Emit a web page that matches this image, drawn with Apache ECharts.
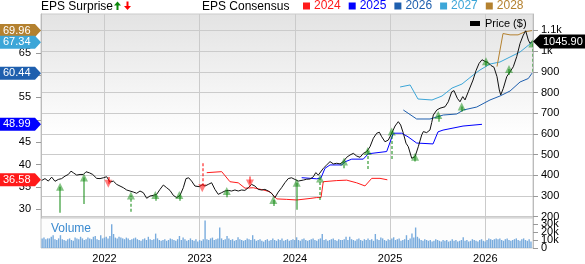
<!DOCTYPE html>
<html><head><meta charset="utf-8">
<script src="https://cdn.jsdelivr.net/npm/echarts@6/dist/echarts.min.js"></script>
<style>html,body{margin:0;padding:0;background:#fff}#c{width:585px;height:264px}</style>
</head><body><div id="c"></div>
<script>
// ---------- data ----------
const yearTicks = [2022, 2023, 2024, 2025, 2026];
const priceTicks = [200, 300, 400, 500, 600, 700, 800, 900, 1000, 1100];
const epsTicks = [30, 35, 40, 45, 50, 55, 60, 65, 70];
const epsLabels = [30, 35, 40, 45, 55, 65];
const volTicks = [0, 10, 20, 30];

const price = [[2021.340,375],[2021.375,384],[2021.410,372],[2021.445,391],[2021.480,371],[2021.515,380],[2021.550,384],[2021.585,396],[2021.620,404],[2021.648,420],[2021.673,412],[2021.708,401],[2021.743,404],[2021.778,404],[2021.806,417],[2021.841,412],[2021.876,404],[2021.918,385],[2021.953,384],[2021.988,388],[2022.023,393],[2022.058,367],[2022.093,372],[2022.128,356],[2022.163,348],[2022.198,340],[2022.233,329],[2022.268,324],[2022.303,319],[2022.338,313],[2022.373,324],[2022.408,316],[2022.443,289],[2022.478,300],[2022.513,303],[2022.548,308],[2022.583,332],[2022.618,353],[2022.653,340],[2022.688,327],[2022.723,303],[2022.758,292],[2022.793,303],[2022.828,340],[2022.856,384],[2022.884,388],[2022.915,372],[2022.950,348],[2022.996,345],[2023.031,356],[2023.055,348],[2023.090,356],[2023.125,364],[2023.160,332],[2023.195,308],[2023.230,316],[2023.265,324],[2023.300,327],[2023.335,324],[2023.370,329],[2023.405,324],[2023.440,329],[2023.475,327],[2023.510,340],[2023.545,356],[2023.580,348],[2023.615,332],[2023.650,329],[2023.685,332],[2023.720,324],[2023.755,313],[2023.790,292],[2023.825,319],[2023.860,340],[2023.895,364],[2023.930,384],[2023.965,388],[2024.000,380],[2024.035,372],[2024.054,369],[2024.089,377],[2024.124,381],[2024.159,382],[2024.194,393],[2024.219,413],[2024.246,401],[2024.264,401],[2024.299,434],[2024.334,450],[2024.369,466],[2024.404,455],[2024.439,458],[2024.474,455],[2024.509,466],[2024.544,487],[2024.579,498],[2024.614,506],[2024.649,493],[2024.684,487],[2024.719,506],[2024.754,514],[2024.789,538],[2024.824,579],[2024.859,603],[2024.887,608],[2024.912,586],[2024.946,562],[2024.981,570],[2025.017,603],[2025.052,638],[2025.086,659],[2025.111,643],[2025.139,603],[2025.167,555],[2025.191,538],[2025.227,482],[2025.262,490],[2025.296,538],[2025.332,595],[2025.349,611],[2025.384,606],[2025.419,619],[2025.437,655],[2025.454,691],[2025.490,715],[2025.524,724],[2025.577,731],[2025.611,755],[2025.647,803],[2025.671,809],[2025.706,772],[2025.734,755],[2025.763,780],[2025.787,764],[2025.821,803],[2025.839,800],[2025.871,860],[2025.902,905],[2025.934,940],[2025.965,958],[2025.997,950],[2026.028,945],[2026.060,930],[2026.091,922],[2026.123,876],[2026.147,812],[2026.162,788],[2026.189,820],[2026.225,876],[2026.260,900],[2026.294,924],[2026.330,973],[2026.365,1037],[2026.399,1077],[2026.424,1098],[2026.452,1053],[2026.470,1037],[2026.487,1045.90]];

const eps2024 = [[2023.074,38.17],[2023.231,38.4],[2023.318,36.15],[2023.405,35.9],[2023.476,34.7],[2023.563,34.8],[2023.668,34.3],[2023.738,33.9],[2023.809,32.3],[2023.914,32.2],[2024.019,32.06],[2024.159,32.4],[2024.229,32.6],[2024.274,32.6],[2024.298,36.15],[2024.439,36.4],[2024.544,36.5],[2024.649,35.9],[2024.736,35.2],[2024.807,36.9],[2024.894,36.9],[2024.971,36.58]];
const eps2025 = [[2024.071,37.05],[2024.229,36.8],[2024.274,37.0],[2024.316,39.15],[2024.369,39.9],[2024.492,39.9],[2024.526,40.6],[2024.597,41.2],[2024.718,41.2],[2024.771,42.4],[2024.964,42.9],[2025.034,47.0],[2025.122,47.0],[2025.188,46.2],[2025.279,44.8],[2025.451,44.6],[2025.503,47.3],[2025.556,47.7],[2025.766,48.6],[2025.965,48.99]];
const eps2026 = [[2025.139,52.19],[2025.279,50.18],[2025.419,50.18],[2025.559,51.07],[2025.700,51.3],[2025.769,52.19],[2025.910,52.86],[2026.049,54.43],[2026.154,55.32],[2026.260,56.44],[2026.365,58.46],[2026.452,59.24],[2026.491,60.44]];
const eps2027 = [[2025.105,57.34],[2025.210,57.79],[2025.293,54.65],[2025.440,54.43],[2025.545,55.32],[2025.651,57.11],[2025.755,58.0],[2025.860,59.8],[2025.944,61.14],[2026.049,62.48],[2026.154,62.93],[2026.260,64.05],[2026.365,65.17],[2026.491,67.34]];
const eps2028 = [[2026.123,61.9],[2026.186,69.3],[2026.260,69.0],[2026.344,69.0],[2026.418,69.7],[2026.491,69.96]];

const surpriseDates  = [2021.533,2021.785,2022.040,2022.278,2022.534,2022.786,2023.027,2023.284,2023.528,2023.773,2024.019,2024.264,2024.516,2024.765,2025.017,2025.262,2025.506,2025.752,2026.007,2026.249,2026.494];
const surpriseFrom   = [219,261,392,224,277,277,458,294,394,252,234,281,434,430,479,466,659,707,925,884,900];
const surpriseTo     = [345,389,359,302,305,305,337,324,360,281,364,385,466,517,611,490,691,732,951,913,1037];
const surpriseDashed = [0,0,0,1,0,0,1,0,0,0,0,1,1,1,1,0,0,0,0,0,1];

const volStart = 2021.345;
const volWeeksPerYear = 52;
const volumeK = [
12,13,11,12,12,14,16,11,10,12,16,11,10,9,11,12,10,9,13,12,11,14,12,10,11,13,12,11,14,15,11,10,16,12,13,
14,12,15,29.7,17.5,13,12,14,13,12,11,13,12,10,11,12,13,11,10,9,11,12,10,14,11,10,11,18,12,10,9,10,11,9,10,12,11,10,9,11,15,10,13,11,9,10,12,10,9,11,8,10,
9,11,34.5,11,10,12,13,10,11,12,25.6,12,10,11,15,12,10,11,9,10,13.4,11,10,9,10,12,11,10,16,11,9,10,11,9,8,10,11,9,10,12,10,9,11,10,12,9,10,11,9,10,11,10,
13.4,10,9,11,12,10,9,10,11,12,10,9,11,12,17.5,10,11,9,10,11,12,10,9,11,10,10,11,14,10,14,11,10,9,11,12,10,9,11,10,12,10,11,9,17.5,11,10,13,12,10,9,11,10,
12,13.4,10,11,12,9,10,11,16,10,12,18,13,25.6,14,12,10,9,11,10,9,10,8,9,11,10,9,8,10,9,10,8,9,11,9,10,8,9,10,13.4,9,10,8,9,11,10,9,8,10,11,9,8,
10,12,11,10,11,12,11,12,10,9,11,12,10,9,10,11,12,10,9,11,12,10,9,11,8];

// ---------- styling ----------
const FONT = 'Arial, "Liberation Sans", sans-serif';
const C = {r2024:'#ff1a1a', r2025:'#0000ff', r2026:'#1e5fae', r2027:'#3ca6d8', r2028:'#b4812f', grid:'#cbcbcb', green:'#0b870b', red:'#ff0000'};

const volData = volumeK.map((v, i) => [volStart + i / volWeeksPerYear, v]);
const arrowData = surpriseDates.map((d, i) => {
  const up = surpriseTo[i] > surpriseFrom[i];
  return { coords: [[d, surpriseFrom[i]], [d, surpriseTo[i]]],
    lineStyle: { color: up ? C.green : C.red, width: 2, type: surpriseDashed[i] ? [3, 2] : 'solid' } };
});

const axisLblBase = { fontFamily: FONT, fontSize: 11, color: '#000', hideOverlap: false };

const chart = echarts.init(document.getElementById('c'), null, { renderer: 'canvas' });
const option = {
  animation: false,
  backgroundColor: '#fff',
  textStyle: { fontFamily: FONT },
  grid: [
    { left: 41, right: 52, top: 14, height: 204, show: true, borderColor: C.grid, borderWidth: 1,
      backgroundColor: { type: 'linear', x: 0, y: 0, x2: 0, y2: 1, colorStops: [{ offset: 0, color: '#e3e3e3' }, { offset: 0.6, color: '#ffffff' }] } },
    { left: 41, right: 52, top: 218, height: 31, show: true, borderColor: C.grid, borderWidth: 1, backgroundColor: '#fdfdfd' }
  ],
  legend: [
    { data: [{ name: '2024', textStyle: { color: C.r2024 } }, { name: '2025', textStyle: { color: C.r2025 } }, { name: '2026', textStyle: { color: C.r2026 } }, { name: '2027', textStyle: { color: C.r2027 } }, { name: '2028', textStyle: { color: C.r2028 } }],
      left: 303, top: 0, padding: 0, itemWidth: 7, itemHeight: 7, itemGap: 8, icon: 'rect', selectedMode: false,
      textStyle: { fontFamily: FONT, fontSize: 12, padding: [0, 0, 0, -1] } },
    { data: ['Price ($)'], left: 470, top: 18, padding: 0, itemWidth: 10, itemHeight: 5, icon: 'rect', selectedMode: false,
      textStyle: { fontFamily: FONT, fontSize: 11, color: '#000' } }
  ],
  xAxis: [
    { gridIndex: 0, type: 'value', min: 2021.333, max: 2026.501,
      axisLine: { show: false }, axisTick: { show: false, customValues: yearTicks },
      axisLabel: { show: false, customValues: yearTicks },
      splitLine: { show: true, lineStyle: { color: C.grid, width: 1 } } },
    { gridIndex: 1, type: 'value', min: 2021.333, max: 2026.501,
      axisLine: { show: false }, axisTick: { show: false, customValues: yearTicks },
      axisLabel: Object.assign({ customValues: yearTicks, margin: 5, formatter: v => String(v) }, axisLblBase),
      splitLine: { show: true, lineStyle: { color: C.grid, width: 1 } } }
  ],
  yAxis: [
    { gridIndex: 0, type: 'value', position: 'left', min: 28.03, max: 73.67,
      axisLine: { show: true, lineStyle: { color: '#bbb' } },
      axisTick: { show: true, length: 5, customValues: epsTicks, lineStyle: { color: '#999' } },
      axisLabel: Object.assign({ customValues: epsLabels, margin: 10 }, axisLblBase),
      splitLine: { show: false } },
    { gridIndex: 0, type: 'value', position: 'right', min: 193.7, max: 1179,
      axisLine: { show: true, lineStyle: { color: '#bbb' } },
      axisTick: { show: true, length: 5, customValues: priceTicks, lineStyle: { color: '#999' } },
      axisLabel: Object.assign({ customValues: priceTicks, margin: 8, formatter: v => v >= 1000 ? (v / 1000) + 'k' : String(v) }, axisLblBase),
      splitLine: { show: true, lineStyle: { color: C.grid, width: 1 } } },
    { gridIndex: 1, type: 'value', position: 'right', min: 0, max: 37.5,
      axisLine: { show: true, lineStyle: { color: '#bbb' } },
      axisTick: { show: true, length: 5, customValues: volTicks, lineStyle: { color: '#999' } },
      axisLabel: { show: false, customValues: volTicks },
      splitLine: { show: false } }
  ],
  series: [
    { name: 'Volume', type: 'bar', xAxisIndex: 1, yAxisIndex: 2, data: volData, barWidth: 1.4,
      itemStyle: { color: '#78abdd' }, silent: true },
    { name: '2024', type: 'line', xAxisIndex: 0, yAxisIndex: 0, data: eps2024, symbol: 'none', color: C.r2024, lineStyle: { width: 1, color: C.r2024 }, z: 3 },
    { name: '2025', type: 'line', xAxisIndex: 0, yAxisIndex: 0, data: eps2025, symbol: 'none', color: C.r2025, lineStyle: { width: 1, color: C.r2025 }, z: 3 },
    { name: '2026', type: 'line', xAxisIndex: 0, yAxisIndex: 0, data: eps2026, symbol: 'none', color: C.r2026, lineStyle: { width: 1, color: C.r2026 }, z: 3 },
    { name: '2027', type: 'line', xAxisIndex: 0, yAxisIndex: 0, data: eps2027, symbol: 'none', color: C.r2027, lineStyle: { width: 1, color: C.r2027 }, z: 3 },
    { name: '2028', type: 'line', xAxisIndex: 0, yAxisIndex: 0, data: eps2028, symbol: 'none', color: C.r2028, lineStyle: { width: 1, color: C.r2028 }, z: 3 },
    { name: 'Price ($)', type: 'line', xAxisIndex: 0, yAxisIndex: 1, data: price, symbol: 'none', color: '#000', lineStyle: { width: 1, color: '#111' }, z: 4 },
    { name: 'Surprise', type: 'lines', coordinateSystem: 'cartesian2d', xAxisIndex: 0, yAxisIndex: 1,
      symbol: ['none', 'triangle'], symbolSize: [9, 8], data: arrowData, z: 6, silent: true }
  ]
};
chart.setOption(option);

// ---------- value tags & header text (positions from the chart's own scales) ----------
const last = a => a[a.length - 1][1];
const tagList = [
  [last(eps2024), C.r2024], [last(eps2025), C.r2025], [last(eps2026), C.r2026], [last(eps2028), C.r2028], [last(eps2027), C.r2027]
];
const gx = chart.convertToPixel({ xAxisIndex: 0 }, 2021.333);
const gxr = chart.convertToPixel({ xAxisIndex: 0 }, 2026.501);
const graphics = [];
tagList.forEach(([v, col]) => {
  const y = chart.convertToPixel({ yAxisIndex: 0 }, v);
  graphics.push({ type: 'polygon', z: 100, shape: { points: [[0, y - 6.5], [gx - 6, y - 6.5], [gx, y], [gx - 6, y + 6.5], [0, y + 6.5]] }, style: { fill: col } });
  graphics.push({ type: 'text', z: 101, x: 3, y: y, style: { text: v.toFixed(2), fill: '#fff', font: '11px ' + FONT, verticalAlign: 'middle' } });
});
// volume axis labels (placed by the volume axis scale)
volTicks.forEach(v => {
  const y = chart.convertToPixel({ yAxisIndex: 2 }, v);
  graphics.push({ type: 'text', z: 50, x: gxr + 8, y: y, style: { text: v === 0 ? '0' : v + 'k', fill: '#000', font: '11px ' + FONT, verticalAlign: 'middle' } });
});
const lp = last(price);
const py = chart.convertToPixel({ yAxisIndex: 1 }, lp);
graphics.push({ type: 'polygon', z: 100, shape: { points: [[gxr, py], [gxr + 7, py - 7], [585, py - 7], [585, py + 7], [gxr + 7, py + 7]] }, style: { fill: '#000' } });
graphics.push({ type: 'text', z: 101, x: gxr + 10, y: py, style: { text: lp.toFixed(2), fill: '#fff', font: '11px ' + FONT, verticalAlign: 'middle' } });
// header texts
graphics.push({ type: 'text', x: 41, y: 6.5, style: { text: 'EPS Surprise', fill: '#000', font: '12px ' + FONT, verticalAlign: 'middle' } });
graphics.push({ type: 'text', x: 202, y: 6.5, style: { text: 'EPS Consensus', fill: '#000', font: '12px ' + FONT, verticalAlign: 'middle' } });
// legend glyph arrows
graphics.push({ type: 'polygon', shape: { points: [[114, 5.5], [117.5, 1.5], [121, 5.5], [118.5, 5.5], [118.5, 10], [116.5, 10], [116.5, 5.5]] }, style: { fill: C.green } });
graphics.push({ type: 'polygon', shape: { points: [[124, 6], [127.5, 10], [131, 6], [128.5, 6], [128.5, 1.5], [126.5, 1.5], [126.5, 6]] }, style: { fill: C.red } });
// volume label
graphics.push({ type: 'text', x: 51, y: 229, style: { text: 'Volume', fill: '#3a8ad0', font: '12px ' + FONT, verticalAlign: 'middle' } });
chart.setOption({ graphic: graphics });
</script>
</body></html>
